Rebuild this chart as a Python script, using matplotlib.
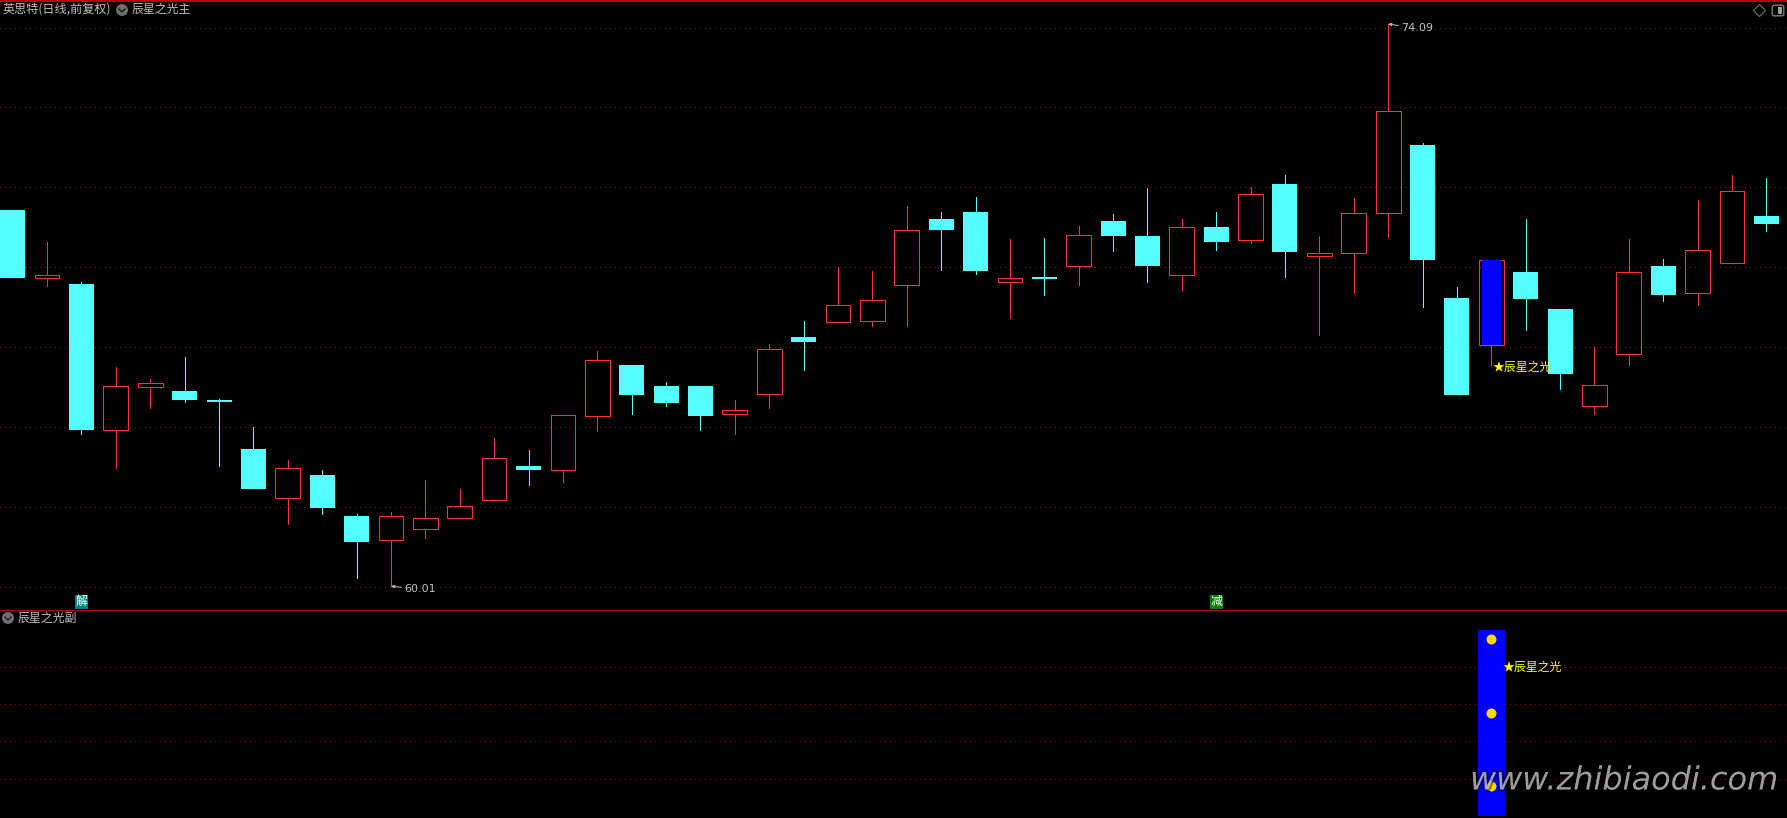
import matplotlib

matplotlib.use("Agg")
import matplotlib.patheffects as pe
import matplotlib.pyplot as plt
from matplotlib.patches import Circle, FancyBboxPatch, Rectangle

plt.rcParams["font.family"] = ["Noto Sans CJK SC", "DejaVu Sans"]

# daily candles
opens = [69.44, 67.73, 67.59, 63.93, 64.99, 64.90, 64.68, 63.45, 62.22, 62.79,
         61.77, 61.17, 61.45, 61.71, 62.16, 63.02, 62.91, 64.28, 65.56, 65.02,
         65.02, 64.33, 64.82, 66.24, 66.62, 66.64, 67.56, 69.21, 69.38, 67.64,
         67.76, 68.04, 69.15, 68.78, 67.81, 69.01, 68.67, 70.07, 68.27, 68.36,
         69.35, 71.07, 67.24, 66.05, 67.87, 66.96, 64.53, 65.82, 68.04, 67.36,
         68.10, 69.27]
closes = [67.73, 67.81, 63.93, 65.02, 65.10, 64.68, 64.62, 62.45, 62.96, 61.96,
          61.11, 61.77, 61.71, 62.02, 63.22, 62.93, 64.30, 65.67, 64.79, 64.59,
          64.28, 64.42, 65.96, 66.13, 67.04, 67.19, 68.93, 68.93, 67.90, 67.73,
          67.70, 68.81, 68.78, 68.04, 69.01, 68.64, 69.84, 68.38, 68.36, 69.35,
          71.92, 68.18, 64.79, 68.18, 67.21, 65.33, 65.05, 67.87, 67.30, 68.44,
          69.90, 69.07]
highs = [69.44, 68.64, 67.64, 65.50, 65.19, 65.76, 64.70, 63.99, 63.16, 62.91,
         61.82, 61.88, 62.68, 62.45, 63.71, 63.42, 64.30, 65.90, 65.56, 65.13,
         65.02, 64.68, 66.07, 66.64, 68.01, 67.90, 69.53, 69.38, 69.75, 68.70,
         68.73, 69.04, 69.33, 69.98, 69.21, 69.38, 70.01, 70.32, 68.78, 69.73,
         74.09, 71.12, 67.50, 68.18, 69.21, 66.96, 65.99, 68.70, 68.21, 69.67,
         70.32, 70.24]
lows = [67.73, 67.53, 63.82, 62.96, 64.48, 64.62, 63.02, 62.45, 61.57, 61.82,
        60.22, 60.01, 61.22, 61.71, 62.14, 62.54, 62.62, 63.90, 64.33, 64.53,
        63.93, 63.82, 64.48, 65.42, 66.62, 66.53, 66.53, 67.93, 67.84, 66.73,
        67.30, 67.56, 68.41, 67.64, 67.44, 68.44, 68.61, 67.76, 66.30, 67.36,
        68.75, 67.01, 64.79, 65.56, 66.42, 64.96, 64.33, 65.56, 67.16, 67.04,
        68.10, 68.90]
price_grid = [60, 62, 64, 66, 68, 70, 72, 74]

# lower panel
signal_day = 43
signal_bar = 100
signal_dots = [95, 55.5, 16]
sub_grid = [20, 40, 60, 80]

RED = "#ff3232"
CYAN = "#54ffff"
BLUE = "#0000ff"
YELLOW = "#ffff00"
GREY = "#c0c0c0"
PX = 0.72

fig = plt.figure(figsize=(17.87, 8.18), dpi=100, facecolor="black")
ax = fig.add_axes([0, 209 / 818, 1, 609 / 818], facecolor="black")
ax2 = fig.add_axes([0, 0, 1, 208 / 818], facecolor="black")
ui = fig.add_axes([0, 0, 1, 1], facecolor="none")

for a in (ax, ax2):
    a.set_xlim(-0.37, 51.60)
    a.set_xticks([])
    a.set_yticks([])
    for s in a.spines.values():
        s.set_visible(False)
ax.set_ylim(59.44, 74.69)
ax2.set_ylim(-1.07, 110.5)

for p in price_grid:
    ax.axhline(p, color="#8a2020", lw=PX, ls=(0, (1, 5)), aa=False, zorder=1)
for v in sub_grid:
    ax2.axhline(v, color="#a00000", lw=PX, ls=(0, (1, 5)), aa=False, zorder=1)

for i, (o, c, h, l) in enumerate(zip(opens, closes, highs, lows)):
    up = c >= o
    col = RED if up else CYAN
    top, bot = max(o, c), min(o, c)
    ax.vlines(i, top, h, color=col, lw=PX, antialiased=False, zorder=2)
    ax.vlines(i, l, bot, color=col, lw=PX, antialiased=False, zorder=2)
    if up:
        ax.bar(i, top - bot, bottom=bot, width=0.72, facecolor="none",
               edgecolor=col, lw=PX, antialiased=False, zorder=3)
    else:
        ax.bar(i, top - bot, bottom=bot, width=0.727, color=col, lw=0,
               antialiased=False, zorder=3)

# highlighted day is filled blue inside its red outline
ax.bar(signal_day, closes[signal_day] - opens[signal_day], bottom=opens[signal_day],
       width=0.56, color=BLUE, lw=0, antialiased=False, zorder=4)
ax.text(signal_day + 0.05, 65.49, "★辰星之光", color=YELLOW, fontsize=8.6,
        ha="left", va="center", zorder=6)

ax.annotate("74.09", xy=(40, max(highs)), xytext=(13, -4.5), textcoords="offset pixels",
            color=GREY, fontsize=8, ha="left", va="center", family="DejaVu Sans",
            arrowprops=dict(arrowstyle="->", color=GREY, lw=0.7, shrinkA=0, shrinkB=0,
                            mutation_scale=5))
ax.annotate("60.01", xy=(11, min(lows)), xytext=(13, -3), textcoords="offset pixels",
            color=GREY, fontsize=8, ha="left", va="center", family="DejaVu Sans",
            arrowprops=dict(arrowstyle="->", color=GREY, lw=0.7, shrinkA=0, shrinkB=0,
                            mutation_scale=5))

ax.text(2, 59.62, "解", color="white", fontsize=8.6, ha="center", va="center",
        bbox=dict(facecolor="#008080", edgecolor="none", pad=0.5), zorder=5)
ax.text(35, 59.62, "减", color="white", fontsize=8.6, ha="center", va="center",
        bbox=dict(facecolor="#008000", edgecolor="none", pad=0.5), zorder=5)

ax2.bar(signal_day, signal_bar, width=0.785, color=BLUE, lw=0, antialiased=False, zorder=2)
ax2.plot([signal_day] * len(signal_dots), signal_dots, "o", color="#ffd700", ms=7.2,
         mew=0, zorder=3)
ax2.text(signal_day + 0.34, sub_grid[-1], "★辰星之光", color=YELLOW, fontsize=8.6,
         ha="left", va="center", zorder=4)

# window furniture, in screen pixels
ui.set_xlim(0, 1787)
ui.set_ylim(818, 0)
ui.axis("off")
ui.axhline(0.5, color="#c00000", lw=1.4)
ui.axhline(609.5, color="#b00000", lw=PX * 1.2)


def chevron(x, y):
    ui.add_patch(Circle((x, y), 6, color="#6e6e6e", lw=0))
    ui.plot([x - 3, x, x + 3], [y - 1, y + 2, y - 1], color="#111111", lw=0.9)


ui.text(3, 9.5, "英思特(日线,前复权)", color=GREY, fontsize=8.7, va="center")
chevron(122, 10)
ui.text(132, 9.5, "辰星之光主", color=GREY, fontsize=8.6, va="center")
chevron(8, 618)
ui.text(18, 618, "辰星之光副", color=GREY, fontsize=8.6, va="center")

ui.plot([1759], [10], "D", ms=6.5, mfc="none", mec="#707070", mew=0.8)
ui.add_patch(FancyBboxPatch((1773, 6), 10, 9, boxstyle="round,pad=0.8,rounding_size=2",
                            fc="none", ec="#808080", lw=1))
ui.add_patch(Rectangle((1778, 7), 4, 7, fc="#a0a0a0", lw=0))

ui.text(1470, 781, "www.zhibiaodi.com", color=(1, 1, 1, 0.48), fontsize=23,
        family="DejaVu Sans", style="italic", va="center", ha="left", zorder=8,
        path_effects=[pe.withStroke(linewidth=3, foreground=(0, 0, 0, 0.45))])

fig.savefig("out.png", dpi=100, facecolor="black")
